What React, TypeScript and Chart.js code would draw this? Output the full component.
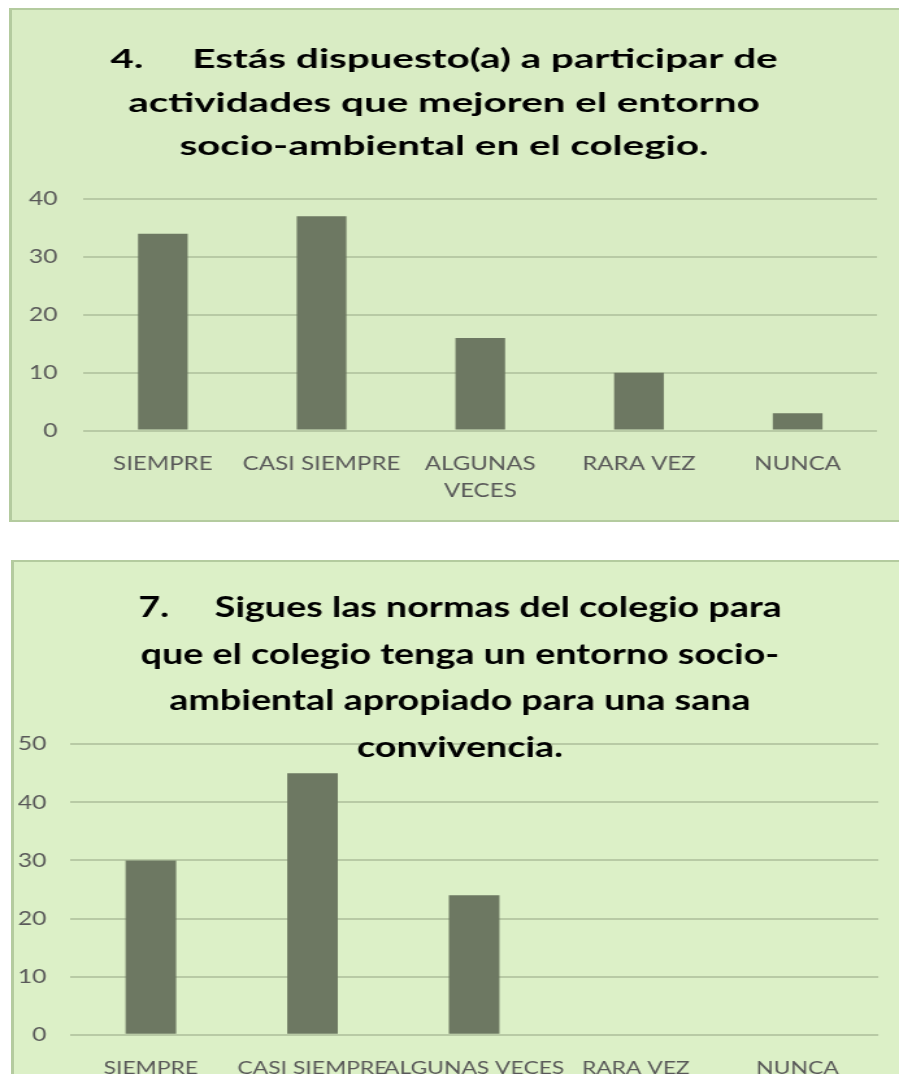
import React, { useEffect, useRef } from 'react';
import { Chart, registerables } from 'chart.js';

Chart.register(...registerables);

// ---------- Data ----------
const title1: string[] = [
  '4.     Estás dispuesto(a) a participar de',
  'actividades que mejoren el entorno',
  'socio-ambiental en el colegio.',
];
const categories1: (string | string[])[] = ['SIEMPRE', 'CASI SIEMPRE', ['ALGUNAS', 'VECES'], 'RARA VEZ', 'NUNCA'];
const values1: number[] = [34, 37, 16, 10, 3];
const yTicks1: number[] = [0, 10, 20, 30, 40];

const title2: string[] = [
  '7.     Sigues las normas del colegio para',
  'que el colegio tenga un entorno socio-',
  'ambiental apropiado para una sana',
  'convivencia.',
];
const categories2: string[] = ['SIEMPRE', 'CASI SIEMPRE', 'ALGUNAS VECES', 'RARA VEZ', 'NUNCA'];
const values2: number[] = [30, 45, 24, 0, 0];
const yTicks2: number[] = [0, 10, 20, 30, 40, 50];

// ---------- Styles ----------
const PAGE_W = 899;
const CANVAS_W = 692;
const SX = PAGE_W / CANVAS_W;
const BAR = '#6d7862';
const GRID = '#b8caa5';
const TICK = '#595959';
const FONT = 'Lato';

type PanelCfg = {
  top: number;
  height: number;
  title: string[];
  titleSize: number;
  titleX: number;
  titleBase: number;
  titleLine: number;
  titleStretch: number;
  labels: (string | string[])[];
  labelSize: number;
  values: number[];
  yTicks: number[];
  chartLeft: number;
  chartTop: number;
  padRight: number;
  xAxisH: number;
  yPad: number;
  xPad: number;
};

function makeTitlePlugin(cfg: PanelCfg) {
  return {
    id: 'multiTitle',
    afterDraw(chart: any) {
      const ctx = chart.ctx as CanvasRenderingContext2D;
      ctx.save();
      ctx.fillStyle = '#000000';
      ctx.font = `bold ${cfg.titleSize}px ${FONT}`;
      ctx.textAlign = 'center';
      ctx.textBaseline = 'alphabetic';
      cfg.title.forEach((line, i) => {
        ctx.save();
        ctx.translate(cfg.titleX, cfg.titleBase + i * cfg.titleLine);
        ctx.scale(cfg.titleStretch, 1);
        ctx.fillText(line, 0, 0);
        ctx.restore();
      });
      ctx.restore();
    },
  };
}

function BarCanvas({ cfg }: { cfg: PanelCfg }) {
  const ref = useRef<HTMLCanvasElement>(null);
  useEffect(() => {
    let chart: Chart | null = null;
    let cancelled = false;
    const make = () => {
      if (cancelled || !ref.current) return;
      const yt = cfg.yTicks;
      chart = new Chart(ref.current, {
        type: 'bar',
        data: {
          labels: cfg.labels as any,
          datasets: [
            {
              data: cfg.values,
              backgroundColor: BAR,
              categoryPercentage: 1,
              barPercentage: 0.313,
            },
          ],
        },
        options: {
          responsive: false,
          animation: false,
          devicePixelRatio: 1,
          layout: { padding: { top: cfg.chartTop, right: cfg.padRight, left: 0, bottom: 0 } },
          plugins: {
            legend: { display: false },
            tooltip: { enabled: false },
            title: { display: false },
          },
          scales: {
            x: {
              grid: { display: false },
              border: { display: false },
              ticks: {
                color: TICK,
                font: { family: FONT, size: cfg.labelSize, lineHeight: 27.5 / cfg.labelSize },
                padding: cfg.xPad,
                maxRotation: 0,
                minRotation: 0,
                autoSkip: false,
              },
              afterFit: (s: any) => {
                s.height = cfg.xAxisH;
              },
            },
            y: {
              min: yt[0],
              max: yt[yt.length - 1],
              ticks: {
                stepSize: yt[1] - yt[0],
                color: TICK,
                font: { family: FONT, size: 19 },
                padding: cfg.yPad,
              },
              grid: { color: GRID, lineWidth: 2, drawTicks: false },
              border: { display: false },
              afterFit: (s: any) => {
                s.width = cfg.chartLeft;
              },
            },
          },
        },
        plugins: [makeTitlePlugin(cfg)],
      });
    };
    const fonts = (document as any).fonts;
    if (fonts && fonts.load) {
      Promise.all([fonts.load(`bold 28px ${FONT}`), fonts.load(`20px ${FONT}`)]).then(make, make);
    } else {
      make();
    }
    return () => {
      cancelled = true;
      if (chart) chart.destroy();
    };
  }, []);
  return (
    <canvas
      ref={ref}
      width={CANVAS_W}
      height={cfg.height}
      style={{
        position: 'absolute',
        left: 0,
        top: cfg.top,
        width: CANVAS_W,
        height: cfg.height,
        transform: `scaleX(${SX})`,
        transformOrigin: '0 0',
      }}
    />
  );
}

const cfg1: PanelCfg = {
  top: 0,
  height: 540,
  title: title1,
  titleSize: 27,
  titleX: 444 / SX,
  titleBase: 68,
  titleLine: 43.5,
  titleStretch: 1.15,
  labels: categories1,
  labelSize: 18.5,
  values: values1,
  yTicks: yTicks1,
  chartLeft: 83.5 / SX,
  chartTop: 199,
  padRight: CANVAS_W - 877 / SX,
  xAxisH: 540 - 430.5,
  yPad: 20,
  xPad: 11.5,
};

const cfg2: PanelCfg = {
  top: 540,
  height: 534,
  title: title2,
  titleSize: 28,
  titleX: 460 / SX,
  titleBase: 77,
  titleLine: 46.7,
  titleStretch: 1.035,
  labels: categories2,
  labelSize: 17.6,
  values: values2,
  yTicks: yTicks2,
  chartLeft: 70 / SX,
  chartTop: 204.3,
  padRight: CANVAS_W - 878.3 / SX,
  xAxisH: 534 - 494.7,
  yPad: 18,
  xPad: 12,
};

export default function App() {
  return (
    <div
      style={{
        position: 'absolute',
        left: 0,
        top: 0,
        width: PAGE_W,
        height: 1074,
        overflow: 'hidden',
        background: '#ffffff',
      }}
    >
      <div
        style={{
          position: 'absolute',
          left: 9,
          top: 8,
          width: 890,
          height: 514,
          boxSizing: 'border-box',
          background: '#d9ecc4',
          borderLeft: '3px solid #b4cb9f',
          borderTop: '2px solid #b4cb9f',
          borderBottom: '2px solid #b4cb9f',
        }}
      />
      <div
        style={{
          position: 'absolute',
          left: 11,
          top: 560,
          width: 888,
          height: 530,
          boxSizing: 'border-box',
          background: '#dcf0c7',
          borderLeft: '3px solid #b4cb9f',
          borderTop: '2px solid #b4cb9f',
        }}
      />
      <BarCanvas cfg={cfg1} />
      <BarCanvas cfg={cfg2} />
    </div>
  );
}
